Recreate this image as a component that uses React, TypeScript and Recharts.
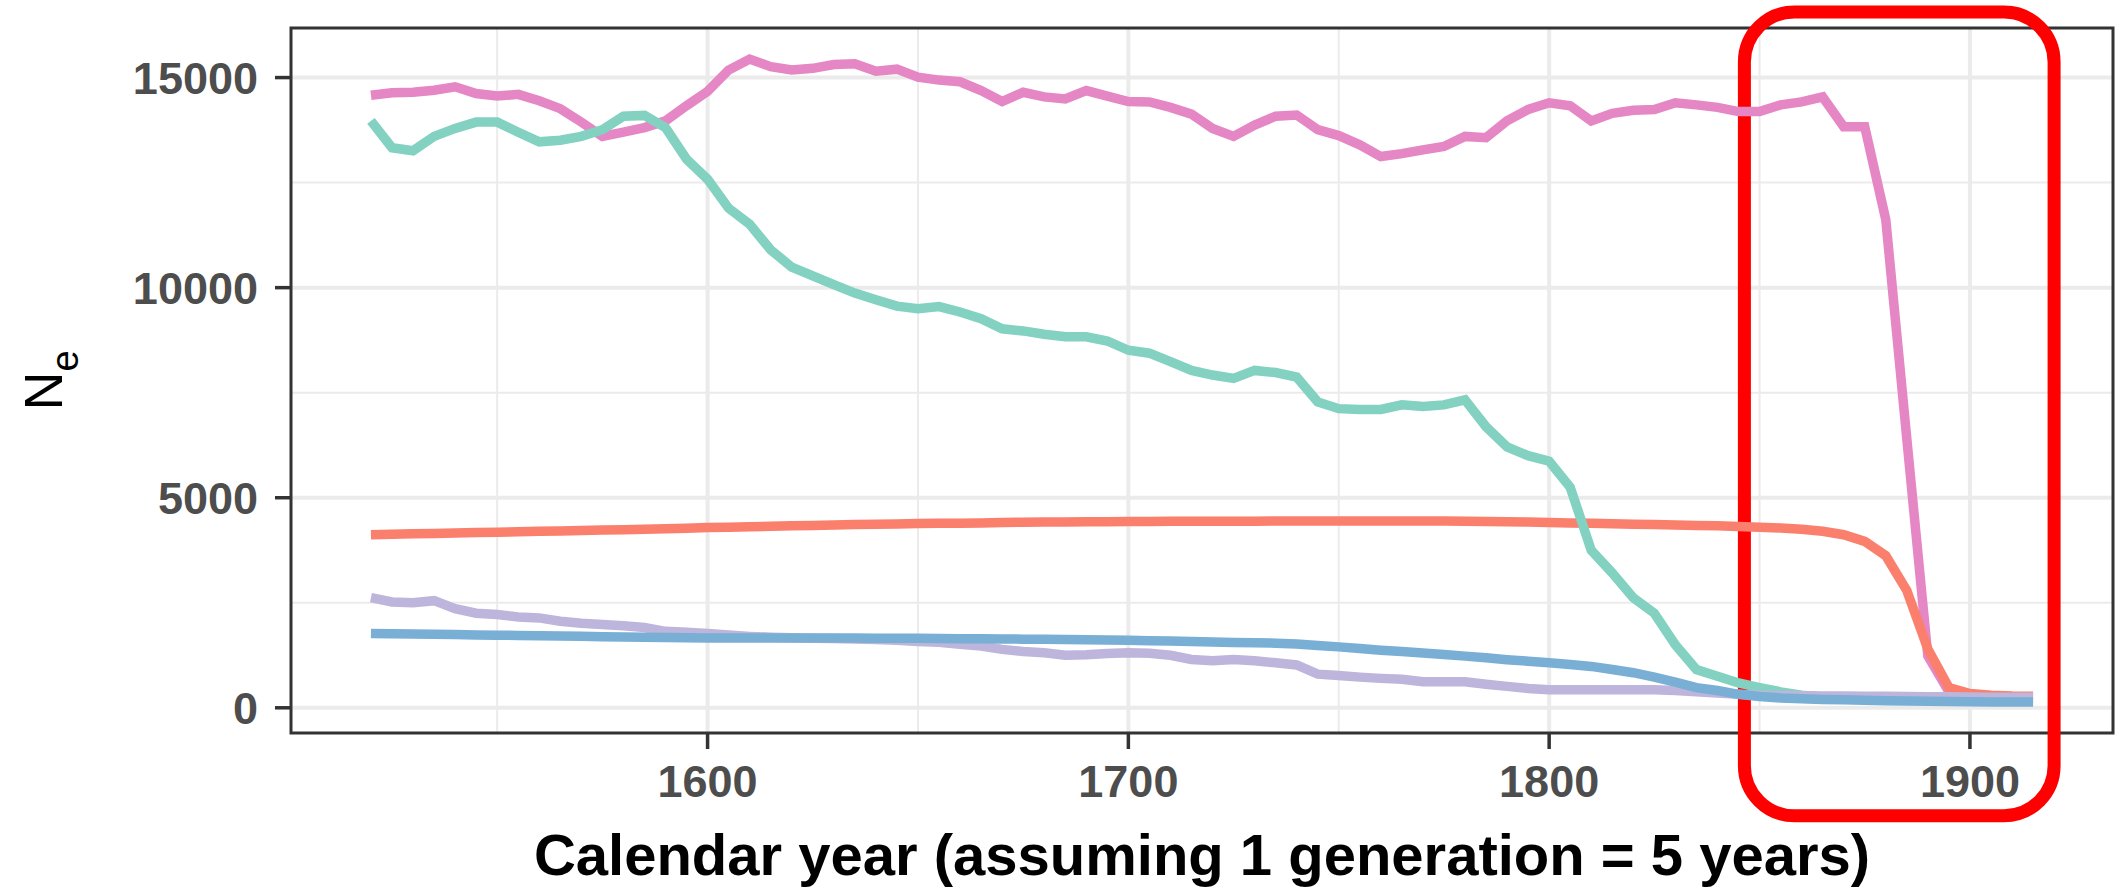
import React from 'react';
import { LineChart, Line, XAxis, YAxis, CartesianGrid, ReferenceArea } from 'recharts';

const years = [
  1520, 1525, 1530, 1535, 1540, 1545, 1550, 1555, 1560, 1565,
  1570, 1575, 1580, 1585, 1590, 1595, 1600, 1605, 1610, 1615,
  1620, 1625, 1630, 1635, 1640, 1645, 1650, 1655, 1660, 1665,
  1670, 1675, 1680, 1685, 1690, 1695, 1700, 1705, 1710, 1715,
  1720, 1725, 1730, 1735, 1740, 1745, 1750, 1755, 1760, 1765,
  1770, 1775, 1780, 1785, 1790, 1795, 1800, 1805, 1810, 1815,
  1820, 1825, 1830, 1835, 1840, 1845, 1850, 1855, 1860, 1865,
  1870, 1875, 1880, 1885, 1890, 1895, 1900, 1905, 1910, 1915,
];

const pinkNe = [
  14580, 14640, 14650, 14700, 14780, 14620, 14560, 14600, 14450, 14260,
  13940, 13600, 13700, 13810, 13970, 14330, 14670, 15180, 15440, 15260,
  15180, 15220, 15310, 15330, 15150, 15200, 15010, 14940, 14900, 14690,
  14430, 14650, 14540, 14490, 14690, 14560, 14430, 14420, 14290, 14130,
  13790, 13600, 13870, 14080, 14110, 13760, 13620, 13400, 13120, 13190,
  13280, 13360, 13600, 13570, 13970, 14240, 14400, 14330, 13970, 14150,
  14220, 14240, 14400, 14350, 14290, 14190, 14190, 14350, 14420, 14540,
  13830, 13830, 11620, 6400, 1230, 380, 270, 250, 240, 235,
];

const tealNe = [
  13970, 13330, 13260, 13600, 13790, 13940, 13940, 13700, 13470, 13510,
  13600, 13760, 14080, 14100, 13810, 13060, 12580, 11890, 11510, 10900,
  10490, 10280, 10070, 9870, 9710, 9560, 9500, 9550, 9420, 9260,
  9020, 8970, 8890, 8830, 8830, 8730, 8510, 8440, 8240, 8030,
  7920, 7840, 8030, 7980, 7870, 7280, 7120, 7100, 7100, 7210,
  7170, 7210, 7330, 6690, 6210, 6000, 5870, 5250, 3750, 3210,
  2620, 2250, 1500, 910, 750, 590, 480, 380, 300, 260,
  240, 230, 220, 210, 200, 195, 190, 185, 180, 180,
];

const redNe = [
  4120, 4130, 4140, 4150, 4160, 4170, 4180, 4190, 4200, 4210,
  4220, 4230, 4240, 4250, 4260, 4275, 4290, 4300, 4310, 4320,
  4330, 4340, 4350, 4360, 4370, 4375, 4385, 4390, 4395, 4400,
  4410, 4415, 4420, 4425, 4430, 4430, 4435, 4435, 4440, 4440,
  4440, 4440, 4440, 4445, 4445, 4445, 4445, 4445, 4445, 4445,
  4445, 4445, 4440, 4435, 4430, 4420, 4410, 4400, 4390, 4380,
  4370, 4360, 4350, 4340, 4330, 4315, 4300, 4280, 4250, 4200,
  4120, 3960, 3620, 2790, 1400, 480, 340, 300, 280, 275,
];

const purpleNe = [
  2620, 2520, 2500, 2550, 2360, 2250, 2220, 2160, 2140, 2060,
  2010, 1980, 1950, 1910, 1820, 1800, 1770, 1730, 1700, 1680,
  1665, 1655, 1650, 1640, 1625, 1605, 1580, 1560, 1510, 1470,
  1390, 1340, 1310, 1250, 1260, 1290, 1310, 1300, 1250, 1150,
  1120, 1150, 1120, 1070, 1020, 800, 770, 730, 700, 680,
  620, 620, 620, 560, 510, 460, 430, 430, 430, 430,
  430, 430, 410, 380, 350, 320, 300, 290, 285, 280,
  280, 275, 275, 270, 265, 260, 255, 250, 250, 250,
];

const blueNe = [
  1770, 1763, 1756, 1749, 1742, 1735, 1728, 1721, 1714, 1707,
  1700, 1693, 1686, 1679, 1672, 1666, 1660, 1660, 1660, 1660,
  1660, 1660, 1660, 1660, 1658, 1656, 1654, 1650, 1646, 1642,
  1638, 1634, 1630, 1624, 1618, 1612, 1606, 1598, 1590, 1580,
  1568, 1555, 1550, 1538, 1520, 1485, 1450, 1410, 1370, 1340,
  1305, 1270, 1230, 1190, 1145, 1110, 1070, 1030, 985, 910,
  835, 730, 610, 480, 410, 320, 270, 235, 215, 200,
  190, 180, 170, 160, 155, 150, 145, 140, 140, 140,
];

const xTicks = [1600, 1700, 1800, 1900];
const xMinor = [1550, 1650, 1750, 1850];
const yTicks = [0, 5000, 10000, 15000];
const yMinor = [2500, 7500, 12500];

const xDomain: [number, number] = [1501, 1934];
const yDomain: [number, number] = [-600, 16180];

// highlighted window around the final collapse
const boxYears: [number, number] = [1846.4, 1920];
const boxNe: [number, number] = [-2570, 16560];

const data = years.map((year, i) => ({
  year,
  pink: pinkNe[i],
  teal: tealNe[i],
  red: redNe[i],
  purple: purpleNe[i],
  blue: blueNe[i],
}));

const FONT = '"Liberation Sans", Arial, Helvetica, sans-serif';
const LINE_W = 9.5;

const XTick = (props: any) => {
  const { x, y, payload } = props;
  return (
    <text x={x} y={y + 46} textAnchor="middle" fontFamily={FONT} fontSize={45} fontWeight="bold" fill="#4D4D4D">
      {payload.value}
    </text>
  );
};

const YTick = (props: any) => {
  const { x, y, payload } = props;
  return (
    <text x={x - 15} y={y} dy="0.36em" textAnchor="end" fontFamily={FONT} fontSize={45} fontWeight="bold" fill="#4D4D4D">
      {payload.value}
    </text>
  );
};

const NeLabel = (props: any) => {
  const vb = props.viewBox || { x: 0, y: 28, width: 291, height: 705 };
  const cy = vb.y + vb.height / 2;
  return (
    <text transform={`translate(62, ${cy}) rotate(-90)`} textAnchor="middle" fontFamily={FONT} fontSize={54} fill="#000">
      N
      <tspan fontSize={38} dy={16}>e</tspan>
    </text>
  );
};

const RoundedBox = (props: any) => (
  <rect
    x={props.x}
    y={props.y}
    width={props.width}
    height={props.height}
    rx={50}
    ry={50}
    fill="none"
    stroke="#FF0000"
    strokeWidth={13}
  />
);

export default function App() {
  return (
    <div style={{ position: 'fixed', left: 0, top: 0, width: 2116, height: 888, background: '#fff' }}>
      <LineChart width={2116} height={888} data={data} margin={{ top: 28, right: 3, left: 0, bottom: 0 }}>
        <CartesianGrid stroke="#EBEBEB" strokeWidth={2} horizontalValues={yMinor} verticalValues={xMinor} />
        <CartesianGrid stroke="#EBEBEB" strokeWidth={4} horizontalValues={yTicks} verticalValues={xTicks} />
        <XAxis
          type="number"
          dataKey="year"
          domain={xDomain}
          ticks={xTicks}
          allowDataOverflow
          height={155}
          axisLine={false}
          tickSize={16}
          tickLine={{ stroke: '#333333', strokeWidth: 3.5 }}
          tick={<XTick />}
          label={{
            value: 'Calendar year (assuming 1 generation = 5 years)',
            position: 'insideBottom',
            offset: 13,
            fill: '#000',
            fontSize: 58,
            fontWeight: 'bold',
            fontFamily: FONT,
          }}
        />
        <YAxis
          type="number"
          domain={yDomain}
          ticks={yTicks}
          allowDataOverflow
          width={291}
          axisLine={false}
          tickSize={16}
          tickLine={{ stroke: '#333333', strokeWidth: 3.5 }}
          tick={<YTick />}
          label={{ content: <NeLabel /> }}
        />
        <Line type="linear" dataKey="pink" stroke="#E586C5" strokeWidth={LINE_W} dot={false} isAnimationActive={false} />
        <Line type="linear" dataKey="red" stroke="#FB7F6D" strokeWidth={LINE_W} dot={false} isAnimationActive={false} />
        <Line type="linear" dataKey="teal" stroke="#82D1C1" strokeWidth={LINE_W} dot={false} isAnimationActive={false} />
        <Line type="linear" dataKey="purple" stroke="#BDB5DB" strokeWidth={LINE_W} dot={false} isAnimationActive={false} />
        <Line type="linear" dataKey="blue" stroke="#79AED5" strokeWidth={LINE_W} dot={false} isAnimationActive={false} />
        <ReferenceArea
          x1={xDomain[0]}
          x2={xDomain[1]}
          y1={yDomain[0]}
          y2={yDomain[1]}
          fill="none"
          stroke="#333333"
          strokeWidth={3}
          fillOpacity={0}
        />
        <ReferenceArea
          x1={boxYears[0]}
          x2={boxYears[1]}
          y1={boxNe[0]}
          y2={boxNe[1]}
          ifOverflow="visible"
          shape={<RoundedBox />}
        />
      </LineChart>
    </div>
  );
}
